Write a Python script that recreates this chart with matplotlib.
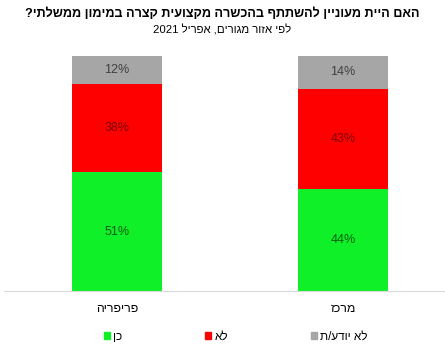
import re
import matplotlib
matplotlib.use("Agg")
import matplotlib.pyplot as plt
from matplotlib.patches import Patch

plt.rcParams['font.family'] = ['Liberation Sans', 'DejaVu Sans']

# data
categories = ["פריפריה", "מרכז"]
yes_vals = [51, 44]
no_vals = [38, 43]
dk_vals = [12, 14]
series_names = ["כן", "לא", "לא יודע/ת"]

title = "האם היית מעוניין להשתתף בהכשרה מקצועית קצרה במימון ממשלתי?"
subtitle = "לפי אזור מגורים, אפריל 2021"


def rtl(s):
    # matplotlib has no bidi: reverse, then put digit runs back in order
    r = s[::-1]
    return re.sub(r"\d+", lambda m: m.group(0)[::-1], r)


colors = ["#10F028", "#FF0000", "#A6A6A6"]
label_colors = ["#0B5E14", "#7A0000", "#404040"]

fig = plt.figure(figsize=(4.45, 3.46), dpi=100)
ax = fig.add_axes([4 / 445, 55 / 346, 441 / 445, 235 / 346])

x = list(range(len(categories)))
width = 0.4
bottom = [0, 0]
for vals, c, lc in zip([yes_vals, no_vals, dk_vals], colors, label_colors):
    bars = ax.bar(x, vals, width, bottom=bottom, color=c, linewidth=0)
    for b, v, b0 in zip(bars, vals, bottom):
        ax.text(b.get_x() + b.get_width() / 2, b0 + v / 2, f"{v}%",
                ha="center", va="center", fontsize=9, color=lc)
    bottom = [a + v for a, v in zip(bottom, vals)]

ax.set_xlim(-0.5, 1.451)
ax.set_ylim(0, 101)
ax.set_yticks([])
ax.set_xticks(x)
ax.set_xticklabels([rtl(c) for c in categories], fontsize=8.8)
ax.tick_params(axis="x", length=0, pad=9)
for s in ["top", "right", "left"]:
    ax.spines[s].set_visible(False)
ax.spines["bottom"].set_color("#D9D9D9")

fig.text(0.5, 1 - 14 / 346, rtl(title), ha="center", va="center",
         fontsize=9.1, fontweight="bold")
fig.text(0.5, 1 - 30 / 346, rtl(subtitle), ha="center", va="center", fontsize=8.2)

handles = [Patch(color=c) for c in colors]
fig.legend(handles, [rtl(n) for n in series_names], ncol=3, frameon=False,
           loc="center", bbox_to_anchor=(236 / 445, 1 - 337 / 346),
           fontsize=8.5, handlelength=0.5, handleheight=0.5, handletextpad=0.3,
           columnspacing=7.0)

fig.savefig("out.png", dpi=100, facecolor="white")
